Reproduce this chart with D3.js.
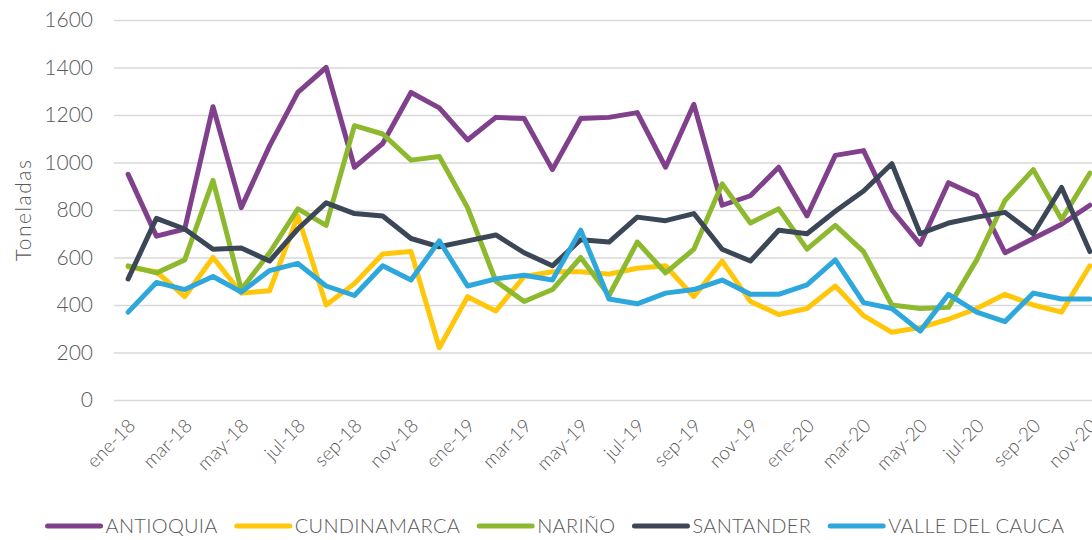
<!DOCTYPE html>
<html><head><meta charset="utf-8">
<script src="https://cdn.jsdelivr.net/npm/d3@7"></script>
<style>
body{margin:0;background:#fff}
svg{display:block}
text{font-family:Lato, "Open Sans", sans-serif; font-weight:300; fill:#595959}
</style>
</head><body>
<svg id="chart" width="1092" height="540"></svg>
<script>
const months = [
  "ene-18","feb-18","mar-18","abr-18","may-18","jun-18","jul-18","ago-18","sep-18","oct-18","nov-18","dic-18",
  "ene-19","feb-19","mar-19","abr-19","may-19","jun-19","jul-19","ago-19","sep-19","oct-19","nov-19","dic-19",
  "ene-20","feb-20","mar-20","abr-20","may-20","jun-20","jul-20","ago-20","sep-20","oct-20","nov-20"
];
const xTickLabels = ["ene-18","mar-18","may-18","jul-18","sep-18","nov-18","ene-19","mar-19","may-19","jul-19","sep-19","nov-19","ene-20","mar-20","may-20","jul-20","sep-20","nov-20"];
const yTickValues = [0,200,400,600,800,1000,1200,1400,1600];
const seriesNames = ["ANTIOQUIA","CUNDINAMARCA","NARIÑO","SANTANDER","VALLE DEL CAUCA"];
const seriesColors = ["#80408C","#FFC60A","#8DB92E","#3B4656","#2EA8DC"];

const antioquia = [950,690,720,1235,810,1070,1295,1400,980,1080,1295,1230,1095,1190,1185,970,1185,1190,1210,980,1245,820,860,980,775,1030,1050,800,655,915,860,620,680,740,820];
const cundinamarca = [560,540,435,600,450,460,775,400,490,615,625,220,435,375,520,540,540,530,555,565,435,585,415,360,385,480,355,285,305,340,385,445,400,370,565];
const narino = [565,535,590,925,465,620,805,735,1155,1120,1010,1025,810,500,415,465,600,440,665,535,635,910,745,805,635,735,625,400,385,390,590,840,970,760,955];
const santander = [510,765,720,635,640,585,720,830,785,775,680,645,670,695,620,565,675,665,770,755,785,635,585,715,700,795,880,995,700,745,770,790,700,895,625];
const valle = [370,495,465,520,455,545,575,480,440,565,505,670,480,510,525,505,715,425,405,450,465,505,445,445,485,590,410,385,290,445,370,330,450,425,425];

const seriesValues = [antioquia, cundinamarca, narino, santander, valle];

const svg = d3.select("#chart");
const pLeft = 114, pRight = 1104, pTop = 20, pBottom = 400;

const x = d3.scaleBand().domain(months).range([pLeft, pRight]);
const xc = m => x(m) + x.bandwidth() / 2;
const y = d3.scaleLinear().domain([0, 1600]).range([pBottom, pTop]);

// gridlines
const grid = svg.append("g").attr("transform", `translate(${pLeft},0)`)
  .call(d3.axisLeft(y).tickValues(yTickValues).tickSize(-(pRight - pLeft)).tickFormat(""));
grid.select(".domain").remove();
grid.selectAll("line").attr("stroke", "#d9d9d9").attr("stroke-width", 1.5);

// y axis labels
const yAxis = svg.append("g").attr("transform", `translate(${pLeft},0)`)
  .call(d3.axisLeft(y).tickValues(yTickValues).tickSize(0).tickPadding(21).tickFormat(d3.format("d")));
yAxis.select(".domain").remove();
yAxis.selectAll("text").attr("font-size", 21).attr("fill", "#595959").style("font-family", "Lato").style("font-weight", 300);

// y axis title
svg.append("text")
  .attr("transform", `translate(31,210) rotate(-90)`)
  .attr("text-anchor", "middle")
  .attr("font-size", 21)
  .attr("letter-spacing", 1.5)
  .text("Toneladas");

// x axis labels
const xPoint = d3.scalePoint().domain(months).range([xc(months[0]), xc(months[months.length-1])]);
const xAxis = svg.append("g").attr("transform", `translate(0,${pBottom})`)
  .call(d3.axisBottom(xPoint).tickValues(xTickLabels).tickSize(0).tickPadding(0));
xAxis.select(".domain").remove();
xAxis.selectAll("text")
  .attr("font-size", 19)
  .attr("fill", "#595959")
  .style("font-family", "Lato")
  .style("font-weight", 300)
  .attr("text-anchor", "end")
  .attr("dy", "0")
  .attr("y", 0)
  .attr("transform", "translate(8,27) rotate(-45)");

// lines
const line = d3.line().x((d, i) => xc(months[i])).y(d => y(d));
svg.append("g").selectAll("path")
  .data(seriesValues)
  .join("path")
  .attr("d", d => line(d))
  .attr("fill", "none")
  .attr("stroke", (d, i) => seriesColors[i])
  .attr("stroke-width", 5)
  .attr("stroke-linejoin", "round")
  .attr("stroke-linecap", "round");

// legend
const legend = svg.append("g");
const symW = 53, symGap = 5, itemGap = 19;
let cx = 0;
seriesNames.forEach((name, i) => {
  const g = legend.append("g").attr("transform", `translate(${cx},0)`);
  g.append("line").attr("x1", 0).attr("x2", symW).attr("y1", 0).attr("y2", 0)
    .attr("stroke", seriesColors[i]).attr("stroke-width", 5).attr("stroke-linecap", "round");
  const t = g.append("text").attr("x", symW + symGap).attr("y", 0).attr("dy", "0.36em")
    .attr("font-size", 20).attr("letter-spacing", 0.3).text(name);
  cx += symW + symGap + t.node().getComputedTextLength() + itemGap;
});
const total = cx - itemGap;
legend.attr("transform", `translate(${556 - total / 2},526)`);
</script>
</body></html>
